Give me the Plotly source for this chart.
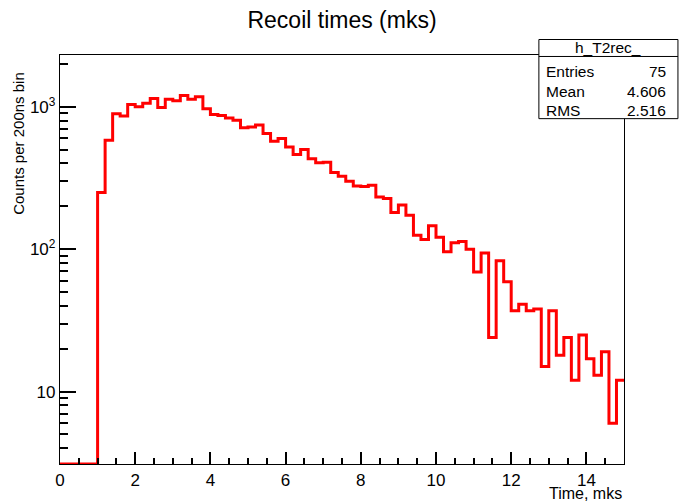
import math
import plotly.graph_objects as go

# ---- data ----
bin_edges_start = 0.0
bin_width = 0.2
counts = [0, 0, 0, 0, 0,
          250, 581, 894, 861, 1037, 1000, 1059, 1142, 989, 1129,
          1100, 1197, 1129, 1173, 969, 880, 866, 832, 804, 711,
          720, 744, 648, 572, 597, 522, 461, 500, 431, 404,
          408, 345, 325, 300, 278, 275, 281, 232, 227, 181,
          204, 173, 125, 117, 146, 121, 96, 111, 113, 100,
          69, 94, 24, 83, 59, 37, 41, 37, 38, 15,
          37, 18, 24, 12, 25, 17, 13, 19, 6, 12]
y_tick_vals = [10, 100, 1000]
y_tick_text = ["10", "10<sup>2</sup>", "10<sup>3</sup>"]
x_tick_vals = [0, 2, 4, 6, 8, 10, 12, 14]
stats_labels = ["Entries", "Mean", "RMS"]
stats_values = ["75", "4.606", "2.516"]
hist_name = "h_T2rec_"

y_min, y_max = 3.1, 2307.0
x_min, x_max = 0.0, 15.0

L, R, T, B = 60, 54.5, 55, 32.5
W, H = 679, 502
pw, ph = W - L - R, H - T - B

def px(x):
    return (x - L) / pw

def py(y):
    return (H - B - y) / ph

n = len(counts)
edges = [bin_edges_start + i * bin_width for i in range(n + 1)]
ydraw = [c if c > 0 else y_min for c in counts]
xs = edges
ys = ydraw + [ydraw[-1]]

lgmin, lgmax = math.log10(y_min), math.log10(y_max)

fig = go.Figure()
fig.add_trace(go.Scatter(x=xs, y=ys, mode="lines", line=dict(color="#ff0000", width=3, shape="hv"),
                         showlegend=False, hoverinfo="skip"))

font = "Liberation Sans, Arial, Helvetica, sans-serif"

fig.update_layout(
    width=W, height=H,
    margin=dict(l=L, r=R, t=T, b=B),
    paper_bgcolor="white", plot_bgcolor="white",
    font=dict(family=font, color="black", size=15),
    title=dict(text="Recoil times (mks)", x=0.5, xref="paper", xanchor="center",
               y=1 - 20 / H, yref="container", yanchor="middle",
               font=dict(size=23, family=font, color="black")),
)
fig.update_xaxes(range=[x_min, x_max], tickmode="array", tickvals=x_tick_vals,
                 ticks="inside", ticklen=12, tickwidth=1.5, tickcolor="black",
                 minor=dict(ticks="inside", ticklen=6, tickwidth=1.5, tickcolor="black", dtick=0.5, showgrid=False),
                 showline=True, linecolor="black", linewidth=1.3,
                 mirror=True, showgrid=False, zeroline=False,
                 tickfont=dict(size=17, family=font))
fig.update_yaxes(type="log", range=[lgmin, lgmax], tickmode="array",
                 tickvals=y_tick_vals, ticktext=y_tick_text,
                 ticks="inside", ticklen=16, tickwidth=1.5, tickcolor="black",
                 minor=dict(ticks="inside", ticklen=8, tickwidth=1.5, tickcolor="black", dtick="D1", showgrid=False),
                 showline=True, linecolor="black", linewidth=1.3,
                 mirror=True, showgrid=False, zeroline=False,
                 tickfont=dict(size=17, family=font))

# axis titles as annotations (ROOT style)
fig.add_annotation(text="Time, mks", xref="paper", yref="paper", x=1.0, y=py(489),
                   xanchor="right", yanchor="top", showarrow=False, font=dict(size=16, family=font))
fig.add_annotation(text="Counts per 200ns bin", xref="paper", yref="paper", x=px(19), y=py(145),
                   xanchor="center", yanchor="middle", textangle=-90, showarrow=False,
                   font=dict(size=15, family=font))

# stats box
bx0, bx1, by0, bysep, by1 = 539.3, 678.5, 39.3, 56.5, 119.5
fig.add_shape(type="rect", xref="paper", yref="paper", x0=px(bx0), x1=px(bx1), y0=py(by1), y1=py(by0),
              line=dict(color="black", width=1), fillcolor="white", layer="above")
fig.add_shape(type="line", xref="paper", yref="paper", x0=px(bx0), x1=px(bx1), y0=py(bysep), y1=py(bysep),
              line=dict(color="black", width=1), layer="above")
fig.add_annotation(text=hist_name, xref="paper", yref="paper", x=px((bx0 + bx1) / 2), y=py(47.5),
                   xanchor="center", yanchor="middle", showarrow=False, font=dict(size=15.5, family=font))
row_y = [71.5, 91.5, 111]
for lab, val, yy in zip(stats_labels, stats_values, row_y):
    fig.add_annotation(text=lab, xref="paper", yref="paper", x=px(544), y=py(yy),
                       xanchor="left", yanchor="middle", showarrow=False, font=dict(size=15.5, family=font))
    fig.add_annotation(text=val, xref="paper", yref="paper", x=px(669), y=py(yy),
                       xanchor="right", yanchor="middle", showarrow=False, font=dict(size=15.5, family=font))

fig.write_html("out.html")
